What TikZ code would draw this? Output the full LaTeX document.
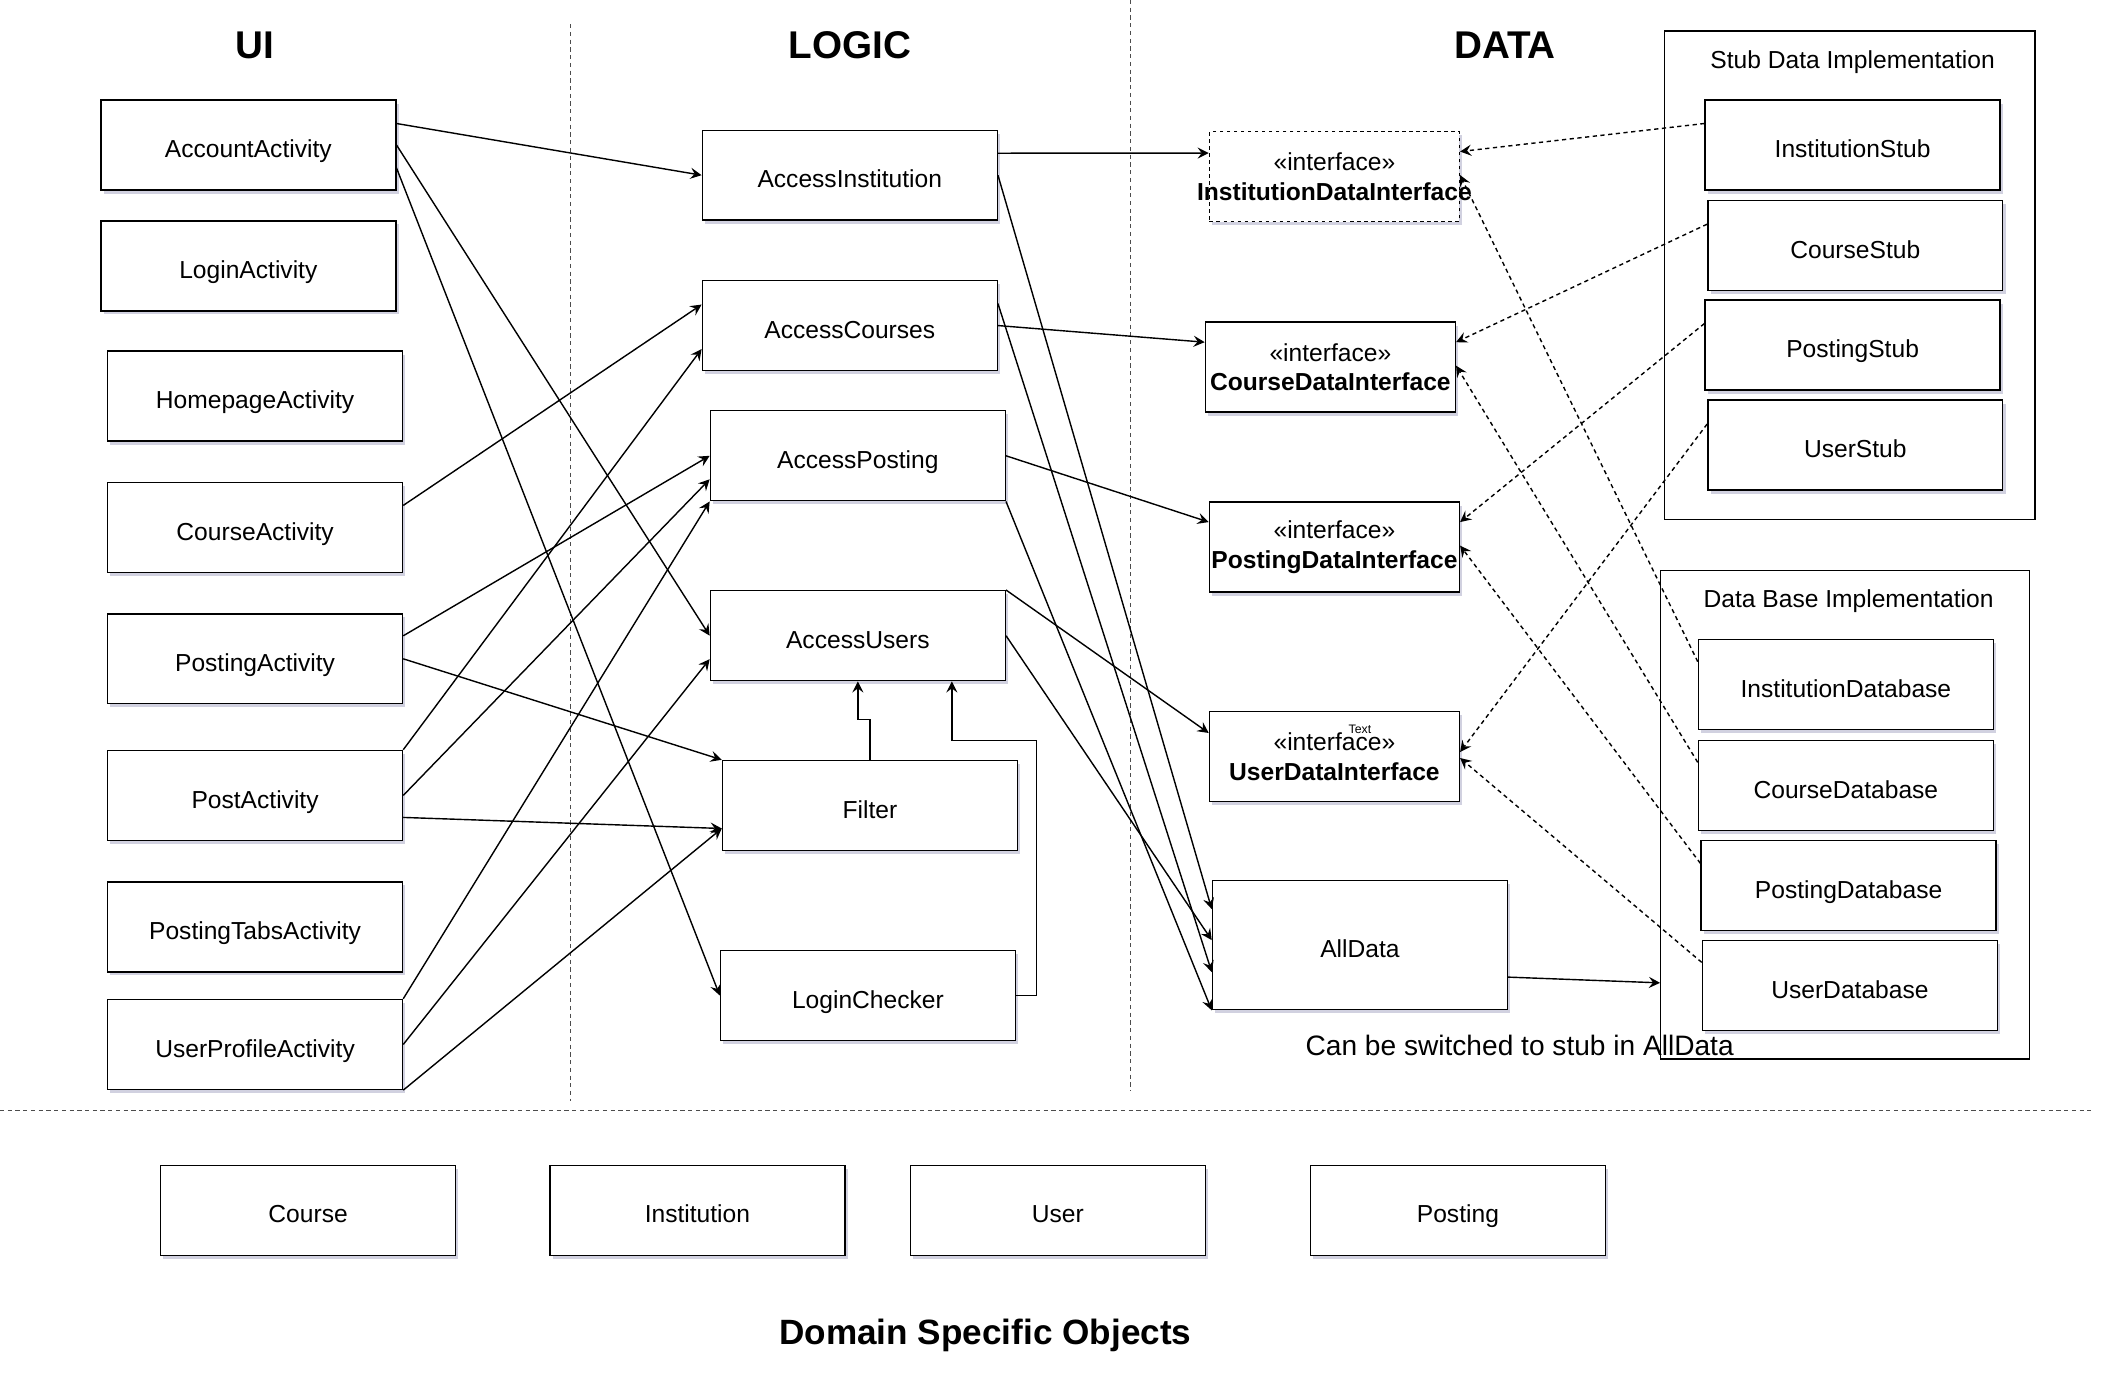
\documentclass[tikz,border=0pt]{standalone}
\usepackage{fontspec}
\setmainfont{Liberation Sans}
\usepackage{tikz}
\usetikzlibrary{arrows}
\usetikzlibrary{positioning}
\usetikzlibrary{shadows}

\newcommand{\boxfont}{\fontsize{7}{8.4}\selectfont}
\newcommand{\ifacetext}[1]{\makebox[0pt]{«interface»}\\\makebox[0pt]{\bfseries #1}}

\begin{document}
\begin{tikzpicture}[x=0.013425cm, y=-0.013425cm,
    font=\boxfont,
    basebox/.style={rectangle, draw, thin, fill=white, minimum width=2.95cm, minimum height=0.9cm, inner sep=0pt, text centered,
        drop shadow={shadow xshift=0.8pt, shadow yshift=-1pt, opacity=0.3, fill=blue!20!gray}},
    block/.style={basebox, text height=0.72em, text depth=0pt},
    iface/.style={basebox, minimum width=2.5cm, align=center},
    layerbox/.style={rectangle, draw, thin, inner sep=0pt},
    heading/.style={font=\fontsize{11}{13}\selectfont\bfseries},
    arrow/.style={-stealth, thin},
    implarrow/.style={-stealth, thin, dash pattern=on 1.2pt off 1pt},
    divider/.style={thin, black!70, dash pattern=on 1.2pt off 1pt},
    ]
    \useasboundingbox (0,0) rectangle (1568,1022);

    % Layer dividers
    \draw [divider] (425,18) -- (425,820);
    \draw [divider] (842,0) -- (842,812);
    \draw [divider] (0,827) -- (1558,827);

    % UI layer
    \node [heading] (ui) at (190,34) {UI};
    \node [block] (account) at (185,108) {AccountActivity};
    \node [block] (login) at (185,198) {LoginActivity};
    \node [block] (homepage) at (190,295) {HomepageActivity};
    \node [block, below=0.4cm of homepage] (courseact) {CourseActivity};
    \node [block, below=0.4cm of courseact] (postingact) {PostingActivity};
    \node [block] (postact) at (190,592.5) {PostActivity};
    \node [block, below=0.4cm of postact] (tabs) {PostingTabsActivity};
    \node [block] (profile) at (190,778) {UserProfileActivity};

    % Logic layer
    \node [heading] (logic) at (633,34) {LOGIC};
    \node [block] (accinst) at (633,130.5) {AccessInstitution};
    \node [block] (acccourses) at (633,242.5) {AccessCourses};
    \node [block] (accposting) at (639,339.5) {AccessPosting};
    \node [block] (accusers) at (639,473.5) {AccessUsers};
    \node [block] (filter) at (648,600) {Filter};
    \node [block] (checker) at (646.5,741.5) {LoginChecker};

    % Data layer
    \node [heading] (data) at (1121,34) {DATA};
    \node [iface, dash pattern=on 1pt off 1pt] (instdi) at (994,131.5) {\ifacetext{InstitutionDataInterface}};
    \node [iface] (coursedi) at (991,273.5) {\ifacetext{CourseDataInterface}};
    \node [iface] (postingdi) at (994,407.5) {\ifacetext{PostingDataInterface}};
    \node [iface] (userdi) at (994,563.5) {\ifacetext{UserDataInterface}};
    \node [font=\fontsize{3.5}{4}\selectfont] (textmark) at (1013,543) {Text};
    \node [block, minimum height=1.29cm] (alldata) at (1013,704) {AllData};
    \node [font=\fontsize{8}{9.6}\selectfont] (switchnote) at (1132,779) {Can be switched to stub in AllData};

    % Stub implementation
    \node [layerbox, minimum width=3.705cm, minimum height=4.887cm] (stubs) at (1378,205) {};
    \node (stubtitle) at (1380,46) {Stub Data Implementation};
    \node [block] (inststub) at (1380,108) {InstitutionStub};
    \node [block] (coursestub) at (1382,183) {CourseStub};
    \node [block] (postingstub) at (1380,257) {PostingStub};
    \node [block] (userstub) at (1382,331.5) {UserStub};

    % Database implementation
    \node [layerbox, minimum width=3.69cm, minimum height=4.887cm] (dbs) at (1374.5,607) {};
    \node (dbtitle) at (1377,448) {Data Base Implementation};
    \node [block] (instdb) at (1375,510) {InstitutionDatabase};
    \node [block] (coursedb) at (1375,585) {CourseDatabase};
    \node [block] (postingdb) at (1377,659.5) {PostingDatabase};
    \node [block] (userdb) at (1378,734) {UserDatabase};

    % Domain objects
    \node [block] (course) at (229.5,901.5) {Course};
    \node [block] (institution) at (519.5,901.5) {Institution};
    \node [block] (user) at (788,901.5) {User};
    \node [block] (posting) at (1086,901.5) {Posting};
    \node [font=\fontsize{10}{12}\selectfont\bfseries] (domain) at (734,995) {Domain Specific Objects};

    % UI -> logic
    \draw [arrow] ([yshift=0.215cm]account.east) -- (accinst.west);
    \draw [arrow] (account.east) -- (accusers.west);
    \draw [arrow] ([yshift=-0.23cm]account.east) -- (checker.west);
    \draw [arrow] ([yshift=0.22cm]courseact.east) -- ([yshift=0.21cm]acccourses.west);
    \draw [arrow] ([yshift=0.23cm]postingact.east) -- (accposting.west);
    \draw [arrow] (postingact.east) -- (filter.north west);
    \draw [arrow] (postact.north east) -- ([yshift=-0.235cm]acccourses.west);
    \draw [arrow] (postact.east) -- ([yshift=-0.235cm]accposting.west);
    \draw [arrow] ([yshift=-0.22cm]postact.east) -- ([yshift=-0.23cm]filter.west);
    \draw [arrow] (profile.north east) -- (accposting.south west);
    \draw [arrow] (profile.east) -- ([yshift=-0.235cm]accusers.west);
    \draw [arrow] (profile.south east) -- ([yshift=-0.23cm]filter.west);

    % Inside logic
    \draw [arrow] (filter.north) -- ++(0,-30) -| (accusers.south);
    \draw [arrow] (checker.east) -- ++(15,0) -- ++(0,-190) -| ([xshift=0.94cm]accusers.south);

    % Logic -> data
    \draw [arrow] ([yshift=0.22cm]accinst.east) -- ([yshift=0.235cm]instdi.west);
    \draw [arrow] (accinst.east) -- ([yshift=0.36cm]alldata.west);
    \draw [arrow] ([yshift=0.22cm]acccourses.east) -- ([yshift=-0.27cm]alldata.west);
    \draw [arrow] (acccourses.east) -- ([yshift=0.25cm]coursedi.west);
    \draw [arrow] (accposting.east) -- ([yshift=0.25cm]postingdi.west);
    \draw [arrow] (accposting.south east) -- (alldata.south west);
    \draw [arrow] (accusers.north east) -- ([yshift=0.235cm]userdi.west);
    \draw [arrow] (accusers.east) -- ([yshift=0.05cm]alldata.west);
    \draw [arrow] ([yshift=-0.32cm]alldata.east) -- ([yshift=-1.68cm]dbs.west);

    % Implementations -> interfaces
    \draw [implarrow] ([yshift=0.215cm]inststub.west) -- ([yshift=0.25cm]instdi.east);
    \draw [implarrow] ([yshift=0.215cm]coursestub.west) -- ([yshift=0.25cm]coursedi.east);
    \draw [implarrow] ([yshift=0.215cm]postingstub.west) -- ([yshift=0.25cm]postingdi.east);
    \draw [implarrow] ([yshift=0.21cm]userstub.west) -- ([yshift=0.045cm]userdi.east);
    \draw [implarrow] ([yshift=0.23cm]instdb.west) -- ([yshift=0.015cm]instdi.east);
    \draw [implarrow] ([yshift=0.23cm]coursedb.west) -- ([yshift=0.015cm]coursedi.east);
    \draw [implarrow] ([yshift=0.22cm]postingdb.west) -- ([yshift=0.015cm]postingdi.east);
    \draw [implarrow] ([yshift=0.23cm]userdb.west) -- ([yshift=-0.015cm]userdi.east);

\end{tikzpicture}
\end{document}
